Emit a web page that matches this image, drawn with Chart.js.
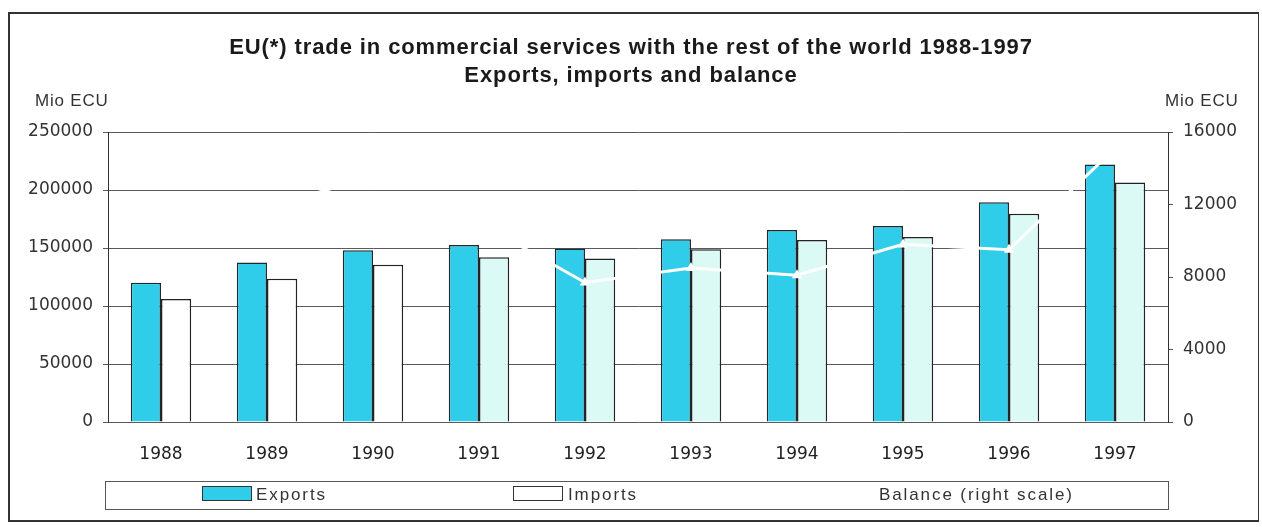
<!DOCTYPE html>
<html>
<head>
<meta charset="utf-8">
<script src="https://cdn.jsdelivr.net/npm/chart.js@4"></script>
<style>
    html, body { margin: 0; padding: 0; background: #ffffff; }
    #wrap { position: relative; width: 1262px; height: 527px; overflow: hidden; font-family: "Liberation Sans", Arial, sans-serif; color: #222; }
    #frame { position: absolute; left: 8px; top: 12px; width: 1248px; height: 506px; border: 2px solid #333; border-right-width: 1px; }
    #tradeChart { position: absolute; left: 0; top: 0; }
    .title { position: absolute; left: 0; width: 1262px; text-align: center; font-weight: bold; font-size: 22px; letter-spacing: 0.9px; color: #1a1a1a; }
    .unit { position: absolute; top: 91px; font-size: 17px; letter-spacing: 0.8px; color: #333; }
    #legend { position: absolute; left: 105px; top: 481px; width: 1062px; height: 27px; border: 1px solid #555; }
    .item { position: absolute; top: 4px; font-size: 17px; letter-spacing: 1.9px; color: #333; line-height: 18px; }
    .swatch { position: absolute; top: 4px; width: 50px; height: 15px; box-sizing: border-box; border: 1px solid #333; }
</style>
</head>
<body>
<div id="wrap">
    <div id="frame"></div>
    <canvas id="tradeChart" width="1262" height="527"></canvas>
    <div class="title" style="top:34px">EU(*) trade in commercial services with the rest of the world 1988-1997</div>
    <div class="title" style="top:62px">Exports, imports and balance</div>
    <div class="unit" style="left:35px">Mio ECU</div>
    <div class="unit" style="left:1165px">Mio ECU</div>
    <div id="legend">
        <div class="swatch" style="left:96px; background:#30cdea"></div>
        <div class="item" style="left:150px">Exports</div>
        <div class="swatch" style="left:407px; background:#ffffff"></div>
        <div class="item" style="left:462px">Imports</div>
        <div class="item" style="left:773px">Balance (right scale)</div>
    </div>
</div>
<script>
// --- Data ---
const years = ['1988', '1989', '1990', '1991', '1992', '1993', '1994', '1995', '1996', '1997'];
const exportsMio = [120000, 137500, 148000, 152500, 149500, 157500, 165500, 169000, 189500, 222000];
const importsMio = [106000, 123500, 135500, 142000, 141000, 149000, 157000, 159500, 179500, 206500];
const balanceMio = [13600, 13700, 12000, 11000, 7700, 8500, 8100, 9800, 9500, 15100];
const leftTicks = [0, 50000, 100000, 150000, 200000, 250000];
const rightTicks = [0, 4000, 8000, 12000, 16000];

document.addEventListener('DOMContentLoaded', () => {
    let tradeChart;

    const tickFont = { family: 'DejaVu Sans', size: 17 };
    const plainNumber = (v) => String(v);

    // imports printed white in the early years, pale mint later
    const importColours = years.map((y, i) => (i < 3 ? '#ffffff' : '#dcfaf5'));

    const initializeTradeChart = () => {
        const ctx = document.getElementById('tradeChart').getContext('2d');
        tradeChart = new Chart(ctx, {
            data: {
                labels: years,
                datasets: [
                    {
                        type: 'line',
                        label: 'Balance (right scale)',
                        data: balanceMio,
                        yAxisID: 'y1',
                        borderColor: '#ffffff',
                        backgroundColor: '#ffffff',
                        borderWidth: 3,
                        pointStyle: 'triangle',
                        pointRadius: 6,
                        pointBorderWidth: 0,
                        order: 0
                    },
                    {
                        type: 'bar',
                        label: 'Exports',
                        data: exportsMio,
                        yAxisID: 'y',
                        backgroundColor: '#30cdea',
                        borderColor: '#1e2a30',
                        borderWidth: 1.5,
                        categoryPercentage: 0.57,
                        barPercentage: 1.0,
                        order: 1
                    },
                    {
                        type: 'bar',
                        label: 'Imports',
                        data: importsMio,
                        yAxisID: 'y',
                        backgroundColor: importColours,
                        borderColor: '#222222',
                        borderWidth: 1.5,
                        categoryPercentage: 0.57,
                        barPercentage: 1.0,
                        order: 1
                    }
                ]
            },
            options: {
                responsive: false,
                animation: false,
                layout: { padding: { top: 132, left: 0, right: 0, bottom: 0 } },
                plugins: {
                    legend: { display: false },
                    title: { display: false },
                    tooltip: { enabled: false }
                },
                scales: {
                    x: {
                        grid: { display: false, drawTicks: false },
                        border: { display: false },
                        ticks: { font: tickFont, color: '#222', padding: 22 },
                        afterFit: (scale) => { scale.height = 105; }
                    },
                    y: {
                        position: 'left',
                        min: 0,
                        max: 250000,
                        afterBuildTicks: (scale) => { scale.ticks = leftTicks.map(v => ({ value: v })); },
                        grid: { color: '#5a5a5a', lineWidth: 1, tickLength: 5 },
                        border: { display: true, color: '#333', width: 1 },
                        ticks: { font: tickFont, color: '#333', padding: 10, callback: plainNumber },
                        afterFit: (scale) => { scale.width = 108; }
                    },
                    y1: {
                        position: 'right',
                        min: 0,
                        max: 16000,
                        afterBuildTicks: (scale) => { scale.ticks = rightTicks.map(v => ({ value: v })); },
                        grid: { drawOnChartArea: false, color: '#555', tickLength: 5 },
                        border: { display: true, color: '#333', width: 1 },
                        ticks: { font: tickFont, color: '#333', padding: 10, callback: plainNumber },
                        afterFit: (scale) => { scale.width = 94; }
                    }
                }
            }
        });
    };

    initializeTradeChart();

    window.onerror = function(message, source, lineno) {
        console.log("Global Error:", message, "at", source + ":" + lineno);
    };
});
</script>
</body>
</html>
